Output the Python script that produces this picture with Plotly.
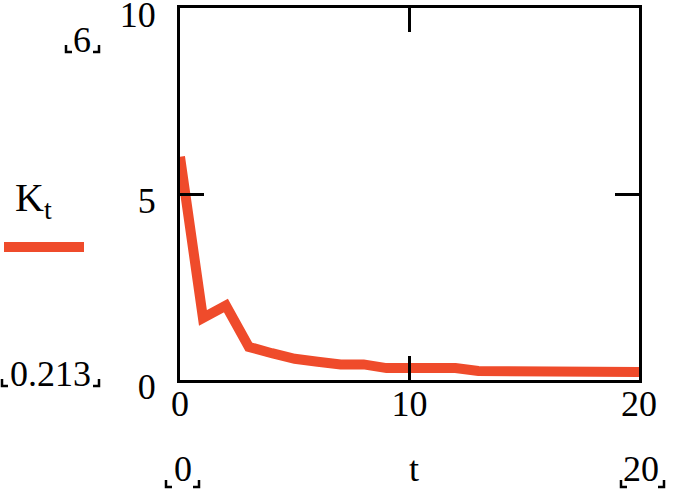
import plotly.graph_objects as go

t = list(range(0, 21))
K = [6.0, 1.67, 2.0, 0.89, 0.72, 0.57, 0.49, 0.42, 0.42, 0.32, 0.32, 0.32, 0.32,
     0.24, 0.24, 0.22, 0.22, 0.213, 0.213, 0.213, 0.213]
x_ticks = [0, 10, 20]
y_ticks = [0, 5, 10]
x_range = [0, 20]
y_range = [0, 10]

W, H = 676, 491
L, R, T, B = 180, 37, 8, 111
PW, PH = W - L - R, H - T - B
RED = "#EF4B2B"
FONT = "Times New Roman, Liberation Serif, DejaVu Serif, serif"
FS = 36


def px(X):
    return (X - L) / PW


def py(Y):
    return (H - B - Y) / PH


fig = go.Figure()
fig.add_trace(go.Scatter(x=t, y=K, mode="lines",
                         line=dict(color=RED, width=10, shape="linear"),
                         showlegend=False, hoverinfo="skip"))

axis_common = dict(showline=True, linecolor="black", linewidth=3, mirror="ticks",
                   ticks="inside", ticklen=24, tickwidth=3, tickcolor="black",
                   showgrid=False, zeroline=False, ticklabeloverflow="allow",
                   automargin=False,
                   tickfont=dict(family=FONT, size=FS, color="black"))

fig.update_xaxes(range=x_range, tickvals=x_ticks, ticklabelstandoff=-10, **axis_common)
fig.update_yaxes(range=y_range, tickvals=y_ticks, ticklabelstandoff=14,
                 ticklabelshift=6, **axis_common)

ann = []
shapes = []


def label(text, X, Y, size=FS):
    ann.append(dict(text=text, x=px(X), y=py(Y), xref="paper", yref="paper",
                    showarrow=False, xanchor="center", yanchor="middle",
                    font=dict(family=FONT, size=size, color="black")))


def brackets(x0, x1, yb, arm=6, h=7):
    path = (f"M {px(x0)},{py(yb - h)} L {px(x0)},{py(yb)} L {px(x0 + arm)},{py(yb)} "
            f"M {px(x1 - arm)},{py(yb)} L {px(x1)},{py(yb)} L {px(x1)},{py(yb - h)}")
    shapes.append(dict(type="path", path=path, xref="paper", yref="paper",
                       line=dict(color="black", width=2.5)))


# y-range markers
label("6", 82, 40)
brackets(66, 99, 52)
label("0.213", 50, 374)
brackets(2, 99, 386)
# x-range markers
label("0", 183, 469)
brackets(166, 199, 487)
label("20", 641, 469)
brackets(621, 664, 487)
label("t", 414, 469)

# legend: K_t and line sample
label("K<sub>t</sub>", 33, 200, size=40)
shapes.append(dict(type="line", x0=px(4), x1=px(84), y0=py(247), y1=py(247),
                   xref="paper", yref="paper",
                   line=dict(color=RED, width=10)))

fig.update_layout(width=W, height=H,
                  margin=dict(l=L, r=R, t=T, b=B, autoexpand=False),
                  paper_bgcolor="white", plot_bgcolor="white",
                  annotations=ann, shapes=shapes)

fig.write_html("out.html", config={"displayModeBar": False},
               post_script="document.body.style.margin='0';document.body.style.overflow='hidden';")
